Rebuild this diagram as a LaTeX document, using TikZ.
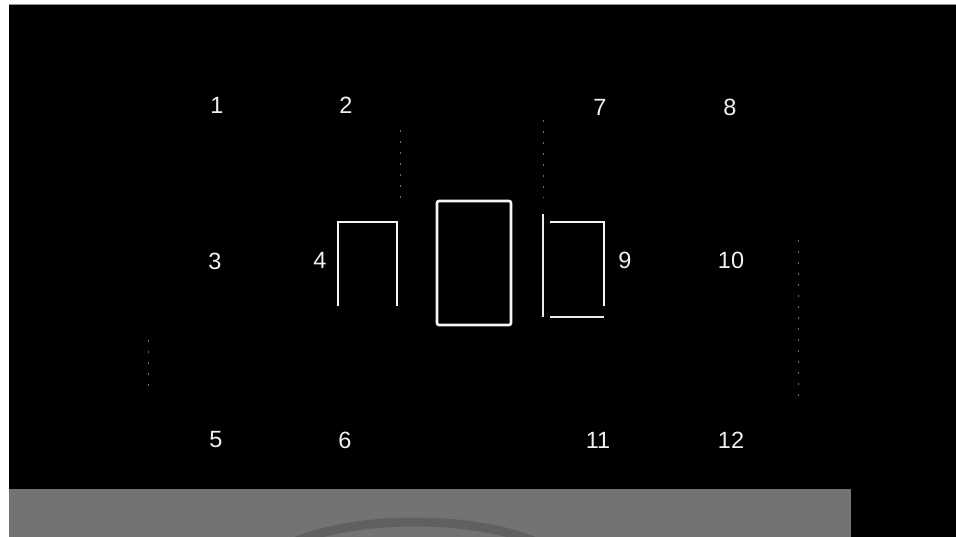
\documentclass[tikz,border=0pt]{standalone}
\usepackage{fontspec}
\setmainfont{Liberation Sans}
\begin{document}
\begin{tikzpicture}[x=1pt,y=-1pt]
		\tikzstyle{every node}=[font=\fontsize{23.5pt}{28pt}\selectfont, text={rgb,255:red,240; green,240; blue,240}, inner sep=0pt]
		\tikzset{wall/.style={draw={rgb,255:red,245; green,245; blue,245}, line width=2.6pt},
			thinwall/.style={draw={rgb,255:red,235; green,235; blue,235}, line width=1.3pt},
			faint/.style={draw={rgb,255:red,110; green,110; blue,110}, line width=0.8pt, dash pattern=on 2pt off 9pt}}
		\useasboundingbox (0,0) rectangle (956,537);
		% background
		\fill [white] (0,0) rectangle (956,537);
		\fill [black] (9,4) rectangle (956,537);
		\draw [line width=1pt, draw={rgb,255:red,150; green,150; blue,150}] (9,4.5) -- (956,4.5);
		\fill [fill={rgb,255:red,115; green,115; blue,115}] (9,489) rectangle (851,537);
		\begin{scope}
			\clip (9,489) rectangle (851,537);
			\draw [line width=9pt, draw={rgb,255:red,96; green,96; blue,96}] (415,580) ellipse (160 and 58);
		\end{scope}
		% labels
		\node (n1) at (217,105) {1};
		\node (n2) at (346,105) {2};
		\node (n7) at (600,107) {7};
		\node (n8) at (730,107) {8};
		\node (n3) at (215,261) {3};
		\node (n4) at (320,260) {4};
		\node (n9) at (625,260) {9};
		\node (n10) at (731,260) {10};
		\node (n5) at (216,440) {5};
		\node (n6) at (345,440) {6};
		\node (n11) at (598,440) {11};
		\node (n12) at (731,440) {12};
		% boxes
		\draw [wall] (338,306) -- (338,222) -- (397,222) -- (397,306);
		\draw [wall, rounded corners=2pt] (437,201) rectangle (511,325);
		\draw [thinwall] (543,214) -- (543,317);
		\draw [wall] (550,222) -- (604,222) -- (604,306);
		\draw [thinwall] (550,317) -- (604,317);
		% faint traces
		\draw [faint] (400,130) -- (400,198);
		\draw [faint] (543,120) -- (543,198);
		\draw [faint] (798,240) -- (798,402);
		\draw [faint] (148,340) -- (148,388);
	\end{tikzpicture}
\end{document}
